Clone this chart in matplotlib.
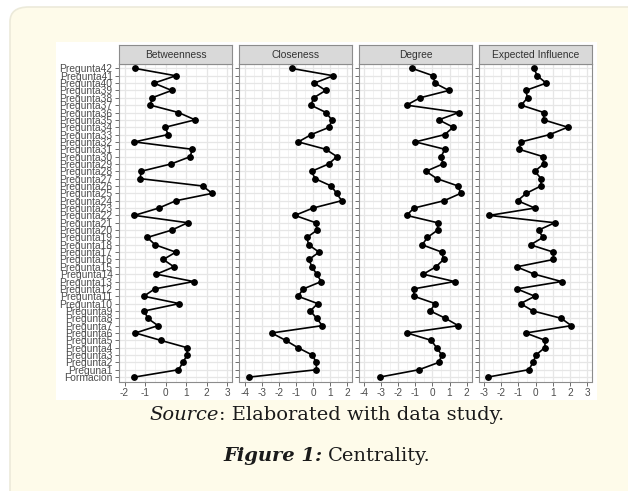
import matplotlib
matplotlib.use("Agg")
import matplotlib.pyplot as plt
from matplotlib.patches import FancyBboxPatch, Rectangle

W, H = 628, 491

ITEMS = ["Formacion", "Preguna1"] + [f"Pregunta{i}" for i in range(2, 43)]

# values listed bottom (Formacion) to top (Pregunta42)
BETWEENNESS = [-1.52, 0.63, 0.85, 1.05, 1.05, -0.24, -1.47, -0.37, -0.87, -1.03,
               0.67, -1.06, -0.53, 1.37, -0.45, 0.41, -0.11, 0.50, -0.51, -0.89,
               0.30, 1.08, -1.52, -0.33, 0.51, 2.27, 1.81, -1.23, -1.20, 0.27,
               1.21, 1.29, -1.52, 0.12, -0.01, 1.44, 0.63, -0.74, -0.66, 0.30,
               -0.56, 0.50, -1.49]
CLOSENESS = [-3.77, 0.20, 0.20, -0.04, -0.89, -1.62, -2.45, 0.55, 0.22, -0.16,
             0.28, -0.89, -0.57, 0.49, 0.22, -0.06, -0.24, 0.36, -0.26, -0.36,
             0.24, 0.16, -1.07, 0.00, 1.70, 1.40, 1.08, 0.12, -0.08, 0.93,
             1.42, 0.75, -0.87, -0.10, 0.97, 1.11, 0.77, -0.12, 0.04, 0.75,
             0.08, 1.20, -1.26]
DEGREE = [-3.08, -0.79, 0.37, 0.55, 0.24, -0.07, -1.47, 1.50, 0.76, -0.13,
          0.16, -1.08, -1.10, 1.29, -0.54, 0.20, 0.65, 0.55, -0.60, -0.29,
          0.30, 0.30, -1.51, -1.08, 0.68, 1.65, 1.50, 0.26, -0.38, 0.61,
          0.51, 0.72, -1.00, 0.72, 1.21, 0.37, 1.54, -1.51, -0.73, 0.96,
          0.14, 0.04, -1.18]
EXP_INFLUENCE = [-2.78, -0.41, -0.14, 0.01, 0.53, 0.55, -0.58, 2.07, 1.48, -0.16,
                 -0.88, -0.05, -1.09, 1.50, -0.07, -1.11, 1.03, 1.03, -0.30, 0.42,
                 0.17, 1.11, -2.69, -0.05, -1.05, -0.55, 0.30, 0.32, -0.05, 0.46,
                 0.42, -0.97, -0.84, 0.82, 1.86, 0.46, 0.47, -0.84, -0.47, -0.58,
                 0.61, 0.09, -0.10]

MEASURES = ["Betweenness", "Closeness", "Degree", "Expected Influence"]
SERIES = [BETWEENNESS, CLOSENESS, DEGREE, EXP_INFLUENCE]
XLIMS = [(-2.27, 3.24), (-4.38, 2.31), (-4.29, 2.31), (-3.29, 3.27)]
XTICKS = [range(-2, 4), range(-4, 3), range(-4, 3), range(-3, 4)]

CREAM = "#FEFBEA"
TXT = "#4D4D4D"
GRID = "#E6E6E6"
BORDER = "#8C8C8C"
SANS = ["Liberation Sans", "DejaVu Sans"]
SERIF = ["DejaVu Serif"]


def px_box(x0, y0, x1, y1):
    return [x0 / W, 1 - y1 / H, (x1 - x0) / W, (y1 - y0) / H]


fig = plt.figure(figsize=(W / 100, H / 100), dpi=100, facecolor="white")

# cream card with rounded corner, white picture on it
fig.patches.append(FancyBboxPatch(
    (10 / W, -0.05), 640 / W, 1 - 7 / H + 0.05,
    boxstyle="round,pad=0,rounding_size=0.03", transform=fig.transFigure,
    facecolor=CREAM, edgecolor="#ECEADA", linewidth=1.2, zorder=-2))
fig.patches.append(Rectangle(
    (56 / W, 1 - 400 / H), 541 / W, 358 / H, transform=fig.transFigure,
    facecolor="white", edgecolor="none", zorder=-1))

lefts = [119, 239, 359, 479]
for i, (name, vals) in enumerate(zip(MEASURES, SERIES)):
    x0 = lefts[i]
    ax = fig.add_axes(px_box(x0, 64, x0 + 113, 381.5))
    ax.set_facecolor("white")
    ax.plot(vals, range(len(ITEMS)), color="black", linewidth=1.2, zorder=3,
            marker="o", markersize=3.9, markerfacecolor="black",
            markeredgecolor="black")
    ax.set_xlim(*XLIMS[i])
    ax.set_ylim(-0.6, len(ITEMS) - 0.4)
    ax.set_xticks(list(XTICKS[i]))
    ax.set_xticks([t + 0.5 for t in XTICKS[i]][:-1], minor=True)
    ax.set_xticklabels([str(t) for t in XTICKS[i]], fontsize=7.2,
                       color=TXT, family=SANS)
    ax.set_yticks(range(len(ITEMS)))
    if i == 0:
        ax.set_yticklabels(ITEMS, fontsize=7.4, color=TXT, family=SANS)
    else:
        ax.set_yticklabels([])
        ax.tick_params(axis="y", length=0)
    ax.grid(True, which="major", color=GRID, linewidth=0.9, zorder=0)
    ax.grid(True, which="minor", axis="x", color="#F0F0F0", linewidth=0.6,
            zorder=0)
    ax.set_axisbelow(True)
    ax.tick_params(which="major", length=2.6, width=0.6, color="#555555",
                   pad=2)
    ax.tick_params(which="minor", length=0)
    for s in ax.spines.values():
        s.set_color(BORDER)
        s.set_linewidth(0.8)

    strip = fig.add_axes(px_box(x0, 45, x0 + 113, 64))
    strip.set_facecolor("#D9D9D9")
    strip.set_xticks([])
    strip.set_yticks([])
    for s in strip.spines.values():
        s.set_color(BORDER)
        s.set_linewidth(0.8)
    strip.text(0.5, 0.5, name, ha="center", va="center", fontsize=7.4,
               color="#333333", family=SANS, transform=strip.transAxes)


def caption(y_px, parts, size, gap=0.0):
    r = fig.canvas.get_renderer()
    texts = []
    for s, style, weight in parts:
        t = fig.text(0, 1 - y_px / H, s, fontsize=size, family=SERIF,
                     style=style, weight=weight, va="center", ha="left",
                     color="#1A1A1A")
        texts.append(t)
    widths = [t.get_window_extent(renderer=r).width for t in texts]
    total = sum(widths) + gap * (len(texts) - 1)
    x = 327 - total / 2
    for t, w in zip(texts, widths):
        t.set_x(x / W)
        x += w + gap


caption(415, [("Source", "italic", "normal"),
              (": Elaborated with data study.", "normal", "normal")], 14)
caption(456, [("Figure 1:", "italic", "bold"),
              ("Centrality.", "normal", "normal")], 14, gap=5)

fig.savefig("out.png", dpi=100, facecolor="white")
